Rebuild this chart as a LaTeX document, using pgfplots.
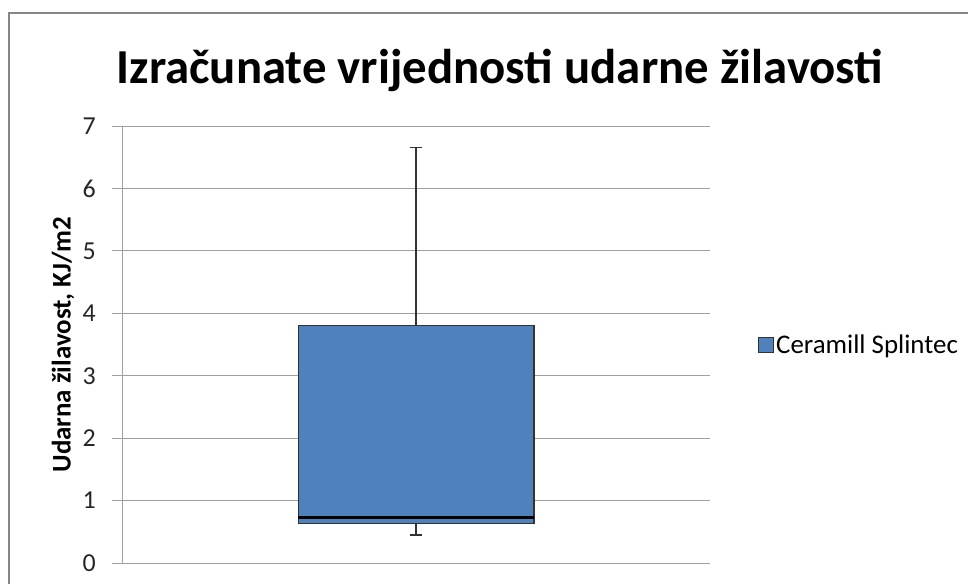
\documentclass[border=0pt]{standalone}
\usepackage{pgfplots}
\pgfplotsset{compat=1.18}
\usepgfplotslibrary{statistics}
\usepackage{fontspec}
\setmainfont{Carlito}
\definecolor{boxblue}{HTML}{4F81BD}
\definecolor{gridgray}{HTML}{A0A0A0}
\definecolor{bordergray}{HTML}{868686}
\begin{document}
\begin{tikzpicture}[x=1bp,y=1bp]
\path[use as bounding box] (0,0) rectangle (968,-584);
\draw[bordergray, line width=2.5bp] (990,-13) -- (9,-13) -- (9,-600);
\node[font=\fontsize{49}{58}\selectfont\bfseries, anchor=base] at (500,-84) {Izračunate vrijednosti udarne žilavosti};
\begin{axis}[
  at={(122bp,-563bp)}, anchor=south west,
  scale only axis, width=588bp, height=437bp,
  xmin=0.5, xmax=1.5, ymin=0, ymax=7,
  ytick={0,1,2,3,4,5,6,7},
  xtick=\empty,
  axis lines=left,
  axis line style={draw=gridgray, line width=1bp, -},
  tick align=outside,
  major tick length=10bp,
  tick style={gridgray, line width=1bp},
  ymajorgrids,
  grid style={gridgray, line width=1bp},
  yticklabel style={font=\fontsize{26}{30}\selectfont, anchor=east, inner sep=0pt, xshift=-16bp, text=black!85},
  /pgf/number format/assume math mode=true,
  ylabel={Udarna žilavost, KJ/m2},
  every axis y label/.style={at={(axis description cs:-0.1003,0.5)}, rotate=90, anchor=center, font=\fontsize{27}{32}\selectfont\bfseries},
  legend style={at={(1,0.5)}, anchor=west, xshift=48bp, draw=none, fill=none, inner sep=0pt, font=\fontsize{27}{32}\selectfont},
  legend cell align=left,
  boxplot/draw direction=y,
  boxplot/every median/.style={line width=2.2bp, draw=black},
]
\addplot[
  boxplot prepared={lower whisker=0.45, lower quartile=0.63, median=0.73, upper quartile=3.81, upper whisker=6.65, draw position=1, box extend=0.401, whisker extend=0.022},
  draw=black!80, fill=boxblue, line width=1.2bp, solid,
  legend image code/.code={\draw[black!80, fill=boxblue, line width=1bp] (-5bp,-7.5bp) rectangle (10bp,7.5bp);}
] coordinates {};
\addlegendentry{Ceramill Splintec}
\end{axis}
\end{tikzpicture}
\end{document}
